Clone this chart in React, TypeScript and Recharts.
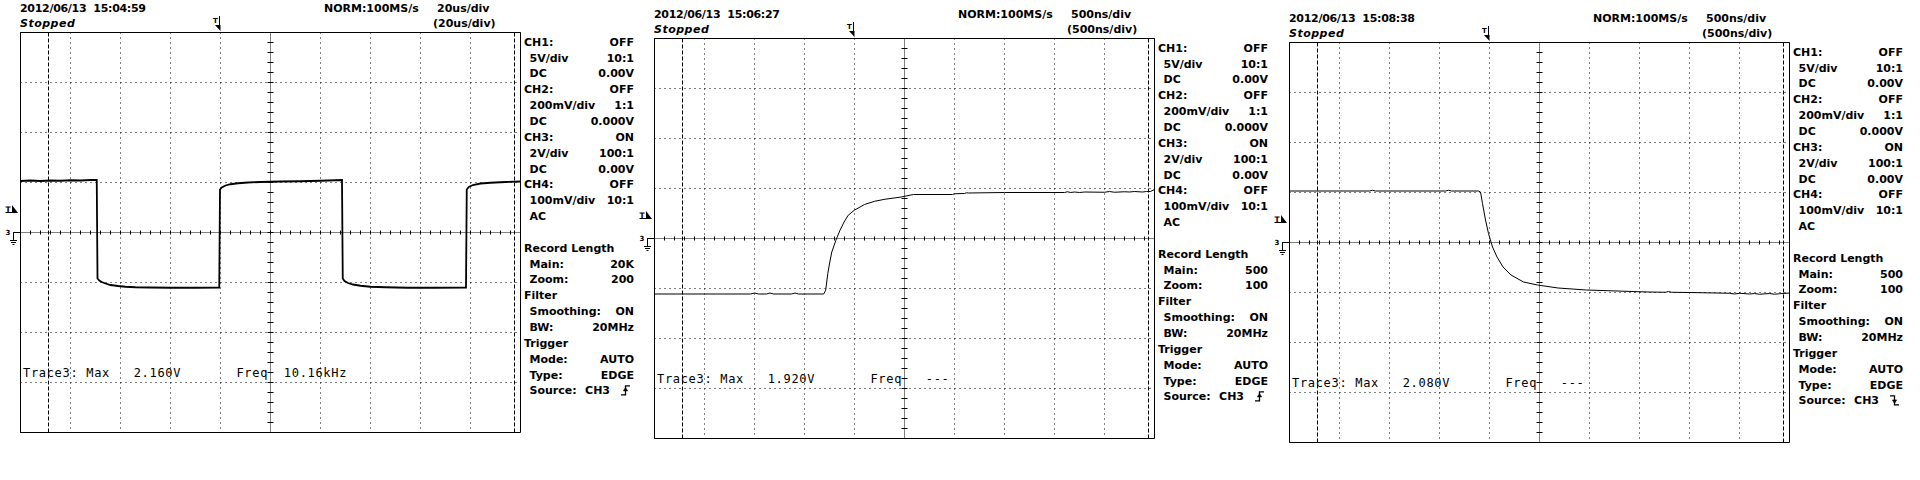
import React from 'react';
import { LineChart, Line, XAxis, YAxis, CartesianGrid, ReferenceLine, ReferenceArea } from 'recharts';

// ---------- data ----------
// Screen 1: CH3 square wave, 20us/div, 2V/div (time in µs, level in V)
const squareTimeUs = [0, 4, 8, 12, 16, 20, 24, 28, 30.5, 30.8, 31.5, 32.5, 34, 36, 39, 42, 46, 52, 60, 70, 79.5, 79.8, 80.5, 82, 84, 87, 91, 96, 104, 112, 120, 128.6, 128.9, 129.6, 131, 133, 136, 140, 146, 155, 165, 178.2, 178.5, 179.3, 181, 184, 188, 194, 200];
const squareVolts = [2.06, 2.08, 2.06, 2.08, 2.07, 2.09, 2.08, 2.1, 2.1, -1.84, -1.92, -1.98, -2.04, -2.1, -2.14, -2.17, -2.19, -2.2, -2.21, -2.21, -2.2, 1.72, 1.8, 1.88, 1.93, 1.97, 2.0, 2.02, 2.04, 2.05, 2.07, 2.1, -1.84, -1.94, -2.02, -2.08, -2.13, -2.17, -2.19, -2.21, -2.21, -2.2, 1.72, 1.82, 1.9, 1.96, 1.99, 2.02, 2.04];

// Screen 2: CH3 rising edge, 500ns/div (time in ns, level in V)
const riseTimeNs = [0, 960, 1000, 1040, 1120, 1155, 1190, 1370, 1405, 1440, 1692, 1712, 1733, 1753, 1773, 1814, 1855, 1896, 1937, 1998, 2100, 2202, 2304, 2467, 2590, 2980, 3000, 3100, 3120, 3140, 3500, 4100, 4130, 4160, 4200, 4250, 4300, 4500, 4550, 4600, 4700, 4750, 4800, 4880, 4920, 4960, 5000];
const riseVolts = [-2.22, -2.22, -2.18, -2.22, -2.22, -2.18, -2.22, -2.22, -2.18, -2.22, -2.22, -2.07, -1.4, -0.94, -0.54, -0.07, 0.33, 0.66, 0.93, 1.13, 1.36, 1.49, 1.57, 1.66, 1.76, 1.76, 1.79, 1.8, 1.83, 1.82, 1.84, 1.84, 1.87, 1.84, 1.86, 1.84, 1.86, 1.85, 1.88, 1.85, 1.87, 1.86, 1.88, 1.86, 1.88, 1.88, 1.96];

// Screen 3: CH3 falling edge, 500ns/div (time in ns, level in V)
const fallTimeNs = [0, 800, 830, 860, 1560, 1590, 1620, 1890, 1910, 1930, 1960, 1990, 2030, 2075, 2135, 2215, 2340, 2480, 2685, 2970, 3585, 3760, 3790, 3820, 4000, 4400, 4450, 4500, 4600, 4650, 4700, 4800, 4850, 4900, 5000];
const fallVolts = [2.06, 2.06, 2.09, 2.06, 2.06, 2.09, 2.06, 2.06, 2.02, 1.56, 0.9, 0.36, -0.18, -0.58, -0.98, -1.3, -1.58, -1.7, -1.82, -1.9, -1.98, -1.99, -1.96, -1.99, -2.0, -2.03, -2.06, -2.03, -2.06, -2.04, -2.07, -2.04, -2.07, -2.05, -2.02];

// ---------- texts ----------
const HEADER_DATES = ['2012/06/13  15:04:59', '2012/06/13  15:06:27', '2012/06/13  15:08:38'];
const SAMPLE_RATES = ['NORM:100MS/s', 'NORM:100MS/s', 'NORM:100MS/s'];
const TIMEBASES = ['20us/div', '500ns/div', '500ns/div'];
const MAX_READINGS = ['2.160V', '1.920V', '2.080V'];
const FREQ_READINGS = ['10.16kHz', ' ---', ' ---'];
const MAIN_LENGTHS = ['20K', '500', '500'];
const ZOOM_FACTORS = ['200', '100', '100'];
const TRIGGER_SLOPES = ['rise', 'rise', 'fall'];

const PANEL_LABELS = ['CH1:', '5V/div', 'DC', 'CH2:', '200mV/div', 'DC', 'CH3:', '2V/div', 'DC', 'CH4:', '100mV/div', 'AC', '', 'Record Length', 'Main:', 'Zoom:', 'Filter', 'Smoothing:', 'BW:', 'Trigger', 'Mode:', 'Type:', 'Source:'];
const PANEL_INDENT = [0, 1, 1, 0, 1, 1, 0, 1, 1, 0, 1, 1, 0, 0, 1, 1, 0, 1, 1, 0, 1, 1, 1];
const PANEL_VALUES = ['OFF', '10:1', '0.00V', 'OFF', '1:1', '0.000V', 'ON', '100:1', '0.00V', 'OFF', '10:1', '', '', '', 'MAIN', 'ZOOM', '', 'ON', '20MHz', '', 'AUTO', 'EDGE', ''];

const TIME_PER_DIV = [20, 500, 500];
const VOLTS_PER_DIV = 2;

// layout
const FRAMES = [
  { left: 20, top: 32 },
  { left: 654, top: 38 },
  { left: 1289, top: 42 },
];

const PANEL_FONT = "'DejaVu Sans', sans-serif";
const MONO_FONT = "'DejaVu Sans Mono', monospace";

function Scope({ time, volts, tPerDiv, strokeWidth }: { time: number[]; volts: number[]; tPerDiv: number; strokeWidth: number }) {
  const data = time.map((t, i) => ({ t, v: volts[i] }));
  const tMax = tPerDiv * 10;
  const yMax = VOLTS_PER_DIV * 4;
  const xTicks = [1, 2, 3, 4, 6, 7, 8, 9].map((k) => k * tPerDiv);
  const yTicks = [-3, -2, -1, 1, 2, 3].map((k) => k * VOLTS_PER_DIV);
  const hMinor = Array.from({ length: 49 }, (_, i) => (i + 1) * 0.2 * tPerDiv);
  const vMinor = Array.from({ length: 39 }, (_, i) => -yMax + (i + 1) * 0.2 * VOLTS_PER_DIV);
  const cx = 5 * tPerDiv;
  return (
    <LineChart width={520} height={440} margin={{ top: 20.5, right: 9.5, bottom: 19.5, left: 10.5 }} data={data}>
      <XAxis dataKey="t" type="number" domain={[0, tMax]} ticks={xTicks} hide allowDataOverflow />
      <YAxis type="number" domain={[-yMax, yMax]} ticks={yTicks} hide allowDataOverflow />
      <CartesianGrid stroke="#000" strokeDasharray="1 4" />
      <ReferenceLine x={cx} stroke="#000" strokeDasharray="1 1" />
      <ReferenceLine y={0} stroke="#000" strokeDasharray="1 1" />
      {hMinor.map((x) => (
        <ReferenceLine key={'h' + x} segment={[{ x, y: -0.04 * VOLTS_PER_DIV }, { x, y: 0.04 * VOLTS_PER_DIV }]} stroke="#000" />
      ))}
      {vMinor.map((y) => (
        <ReferenceLine key={'v' + y} segment={[{ x: cx - 0.06 * tPerDiv, y }, { x: cx + 0.06 * tPerDiv, y }]} stroke="#000" />
      ))}
      <ReferenceLine x={0.56 * tPerDiv} stroke="#000" strokeDasharray="4 2" />
      <ReferenceLine x={9.88 * tPerDiv} stroke="#000" strokeDasharray="4 2" />
      <ReferenceArea x1={0} x2={tMax} y1={-yMax} y2={yMax} fill="none" fillOpacity={0} stroke="#000" strokeWidth={1} />
      <Line dataKey="v" type="linear" stroke="#000" strokeWidth={strokeWidth} dot={false} activeDot={false} isAnimationActive={false} />
    </LineChart>
  );
}

function EdgeGlyph({ x, y, slope }: { x: number; y: number; slope: string }) {
  const s = slope === 'rise' ? 1 : -1;
  return (
    <g stroke="#000" strokeWidth={1.3} fill="none">
      <path d={`M${x} ${y + 4.5 * s} H${x + 4.5} V${y - 4.5 * s} H${x + 9}`} />
      <polygon points={`${x + 2.3},${y + 0.5 * s} ${x + 6.7},${y + 0.5 * s} ${x + 4.5},${y - 3 * s}`} fill="#000" strokeWidth={0.5} />
    </g>
  );
}

function Overlay({ idx }: { idx: number }) {
  const { left, top } = FRAMES[idx];
  const txt = { fontFamily: PANEL_FONT, fontSize: 11, fontWeight: 700, fill: '#000' } as const;
  const values = PANEL_VALUES.map((v) => (v === 'MAIN' ? MAIN_LENGTHS[idx] : v === 'ZOOM' ? ZOOM_FACTORS[idx] : v));
  const rowY = (i: number) => 13.7 + 15.85 * i;
  const srcCenter = rowY(22) - 4;
  return (
    <g transform={`translate(${left},${top})`}>
      <text x={0} y={-20} {...txt} style={{ whiteSpace: 'pre' }} xmlSpace="preserve" letterSpacing={-0.3}>{HEADER_DATES[idx]}</text>
      <text x={0} y={-5} {...txt} fontStyle="italic" letterSpacing={0.5}>Stopped</text>
      <text x={304} y={-20} {...txt}>{SAMPLE_RATES[idx]}</text>
      <text x={417} y={-20} {...txt}>{TIMEBASES[idx]}</text>
      <text x={413} y={-5} {...txt}>{'(' + TIMEBASES[idx] + ')'}</text>
      <text x={193} y={-9} fontFamily={PANEL_FONT} fontSize={7} fontWeight={700}>T</text>
      <line x1={199.5} y1={-16} x2={199.5} y2={-6} stroke="#000" strokeWidth={1} />
      <polygon points="195,-7 200.5,-7 200.5,-1" fill="#000" />
      <text x={-14.5} y={180} fontFamily={PANEL_FONT} fontSize={7.5} fontWeight={700}>T</text>
      <line x1={-14.5} y1={180.5} x2={-8} y2={180.5} stroke="#000" strokeWidth={1} />
      <polygon points="-8,173 -8,181 -2,181" fill="#000" />
      <text x={-14.5} y={203} fontFamily={PANEL_FONT} fontSize={7} fontWeight={700}>3</text>
      <path d="M-6.5 200.5 H0 M-6.5 200 V208 M-10 208.5 H-3 M-9 210.5 H-4 M-7.5 212.5 H-5.5" stroke="#000" strokeWidth={1} fill="none" />
      <text x={3} y={345} fontFamily={MONO_FONT} fontSize={12} letterSpacing={0.68} style={{ whiteSpace: 'pre' }} xmlSpace="preserve" fill="#000">
        {`Trace3: Max   ${MAX_READINGS[idx]}       Freq  ${FREQ_READINGS[idx]}`}
      </text>
      {PANEL_LABELS.map((label, i) =>
        label ? (
          <text key={'l' + i} x={PANEL_INDENT[i] ? 509.5 : 504} y={rowY(i)} {...txt}>{label}</text>
        ) : null
      )}
      {values.map((v, i) =>
        v ? (
          <text key={'v' + i} x={614} y={rowY(i)} textAnchor="end" {...txt}>{v}</text>
        ) : null
      )}
      <text x={590} y={rowY(22)} textAnchor="end" {...txt}>CH3</text>
      <EdgeGlyph x={601} y={srcCenter} slope={TRIGGER_SLOPES[idx]} />
    </g>
  );
}

export default function App() {
  const series = [
    { time: squareTimeUs, volts: squareVolts, sw: 1.8 },
    { time: riseTimeNs, volts: riseVolts, sw: 1 },
    { time: fallTimeNs, volts: fallVolts, sw: 1 },
  ];
  return (
    <div style={{ position: 'absolute', left: 0, top: 0, width: 1920, height: 480, background: '#fff', overflow: 'hidden' }}>
      {series.map((s, i) => (
        <div key={i} style={{ position: 'absolute', left: FRAMES[i].left - 10, top: FRAMES[i].top - 20 }}>
          <Scope time={s.time} volts={s.volts} tPerDiv={TIME_PER_DIV[i]} strokeWidth={s.sw} />
        </div>
      ))}
      <svg width={1920} height={480} style={{ position: 'absolute', left: 0, top: 0, pointerEvents: 'none' }}>
        {[0, 1, 2].map((i) => (
          <Overlay key={i} idx={i} />
        ))}
      </svg>
    </div>
  );
}
